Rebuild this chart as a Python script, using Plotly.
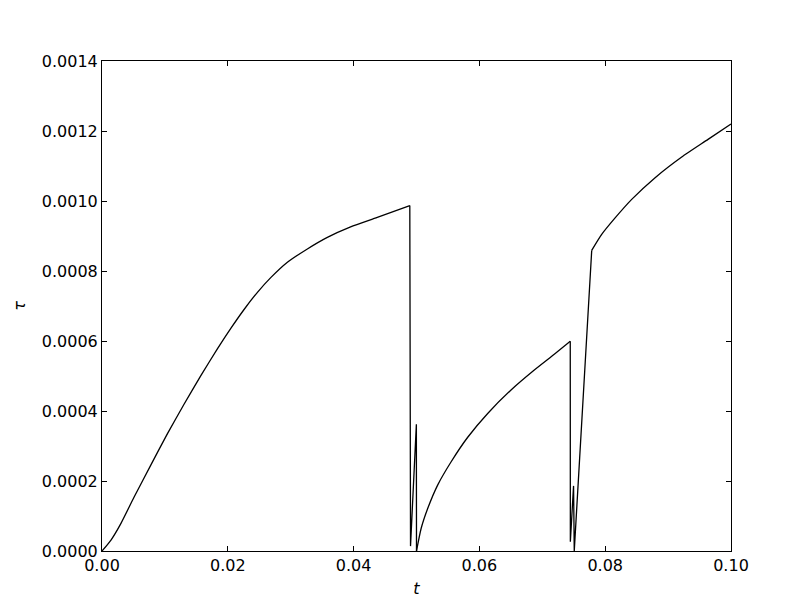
import plotly.graph_objects as go

t_vals = [0.0, 0.001429, 0.003016, 0.005127, 0.007778, 0.010429, 0.013063, 0.015714, 0.018365, 0.020556,
          0.022587, 0.024714, 0.026825, 0.029476, 0.032651, 0.035825, 0.039524, 0.043762, 0.048937,
          0.04905, 0.04998, 0.05000,
          0.050746, 0.051794, 0.053381, 0.055508, 0.058143, 0.061317, 0.065032, 0.068730, 0.071905, 0.074444,
          0.07446, 0.07497, 0.07508,
          0.077857, 0.079413, 0.081540, 0.084175, 0.087889, 0.092111, 0.096349, 0.1000]
tau_vals = [0.0, 0.0000314, 0.0000791, 0.000155, 0.000246, 0.000336, 0.000420, 0.000501, 0.000578, 0.000638,
            0.000690, 0.000739, 0.000781, 0.000825, 0.000863, 0.000896, 0.000926, 0.000953, 0.000987,
            0.000014, 0.000362, 0.0,
            0.0000649, 0.000122, 0.000189, 0.000255, 0.000325, 0.000393, 0.000460, 0.000517, 0.000562, 0.000599,
            0.0000266, 0.000186, 0.0,
            0.000859, 0.000904, 0.000951, 0.001004, 0.001066, 0.001125, 0.001176, 0.001220]

x_ticks = [0.0, 0.02, 0.04, 0.06, 0.08, 0.10]
x_tick_labels = ["0.00", "0.02", "0.04", "0.06", "0.08", "0.10"]
y_ticks = [0.0, 0.0002, 0.0004, 0.0006, 0.0008, 0.0010, 0.0012, 0.0014]
y_tick_labels = ["0.0000", "0.0002", "0.0004", "0.0006", "0.0008", "0.0010", "0.0012", "0.0014"]

# index ranges: smooth parts drawn as splines, jumps/spikes drawn straight
pieces = [(0, 19, "spline"), (18, 22, "linear"), (21, 32, "spline"), (31, 36, "linear"), (35, 43, "spline")]

fig = go.Figure()
for a, b, shape in pieces:
    fig.add_trace(go.Scatter(x=t_vals[a:b], y=tau_vals[a:b], mode="lines",
                             line=dict(color="black", width=1.3, shape=shape, smoothing=0.6),
                             showlegend=False))

font = dict(family="DejaVu Sans", size=16, color="black")
fig.update_layout(
    width=812, height=612,
    margin=dict(l=101.5, r=81, t=61, b=61),
    plot_bgcolor="white", paper_bgcolor="white",
    font=font,
)
fig.update_xaxes(range=[0, 0.1], tickvals=x_ticks, ticktext=x_tick_labels,
                 showgrid=False, zeroline=False, showline=True, linecolor="black", linewidth=1,
                 mirror="allticks", ticks="inside", ticklen=5, tickcolor="black",
                 title=dict(text="<i>t</i>", font=dict(family="DejaVu Sans", size=16), standoff=8),
                 tickfont=font)
fig.update_yaxes(range=[0, 0.0014], tickvals=y_ticks, ticktext=y_tick_labels,
                 showgrid=False, zeroline=False, showline=True, linecolor="black", linewidth=1,
                 mirror="allticks", ticks="inside", ticklen=5, tickcolor="black",
                 title=dict(text="<i>τ</i>", font=dict(family="DejaVu Sans", size=16), standoff=12),
                 tickfont=font)

fig.write_html("out.html", config={"displayModeBar": False},
               post_script="document.body.style.margin='0';document.body.style.overflow='hidden';")
